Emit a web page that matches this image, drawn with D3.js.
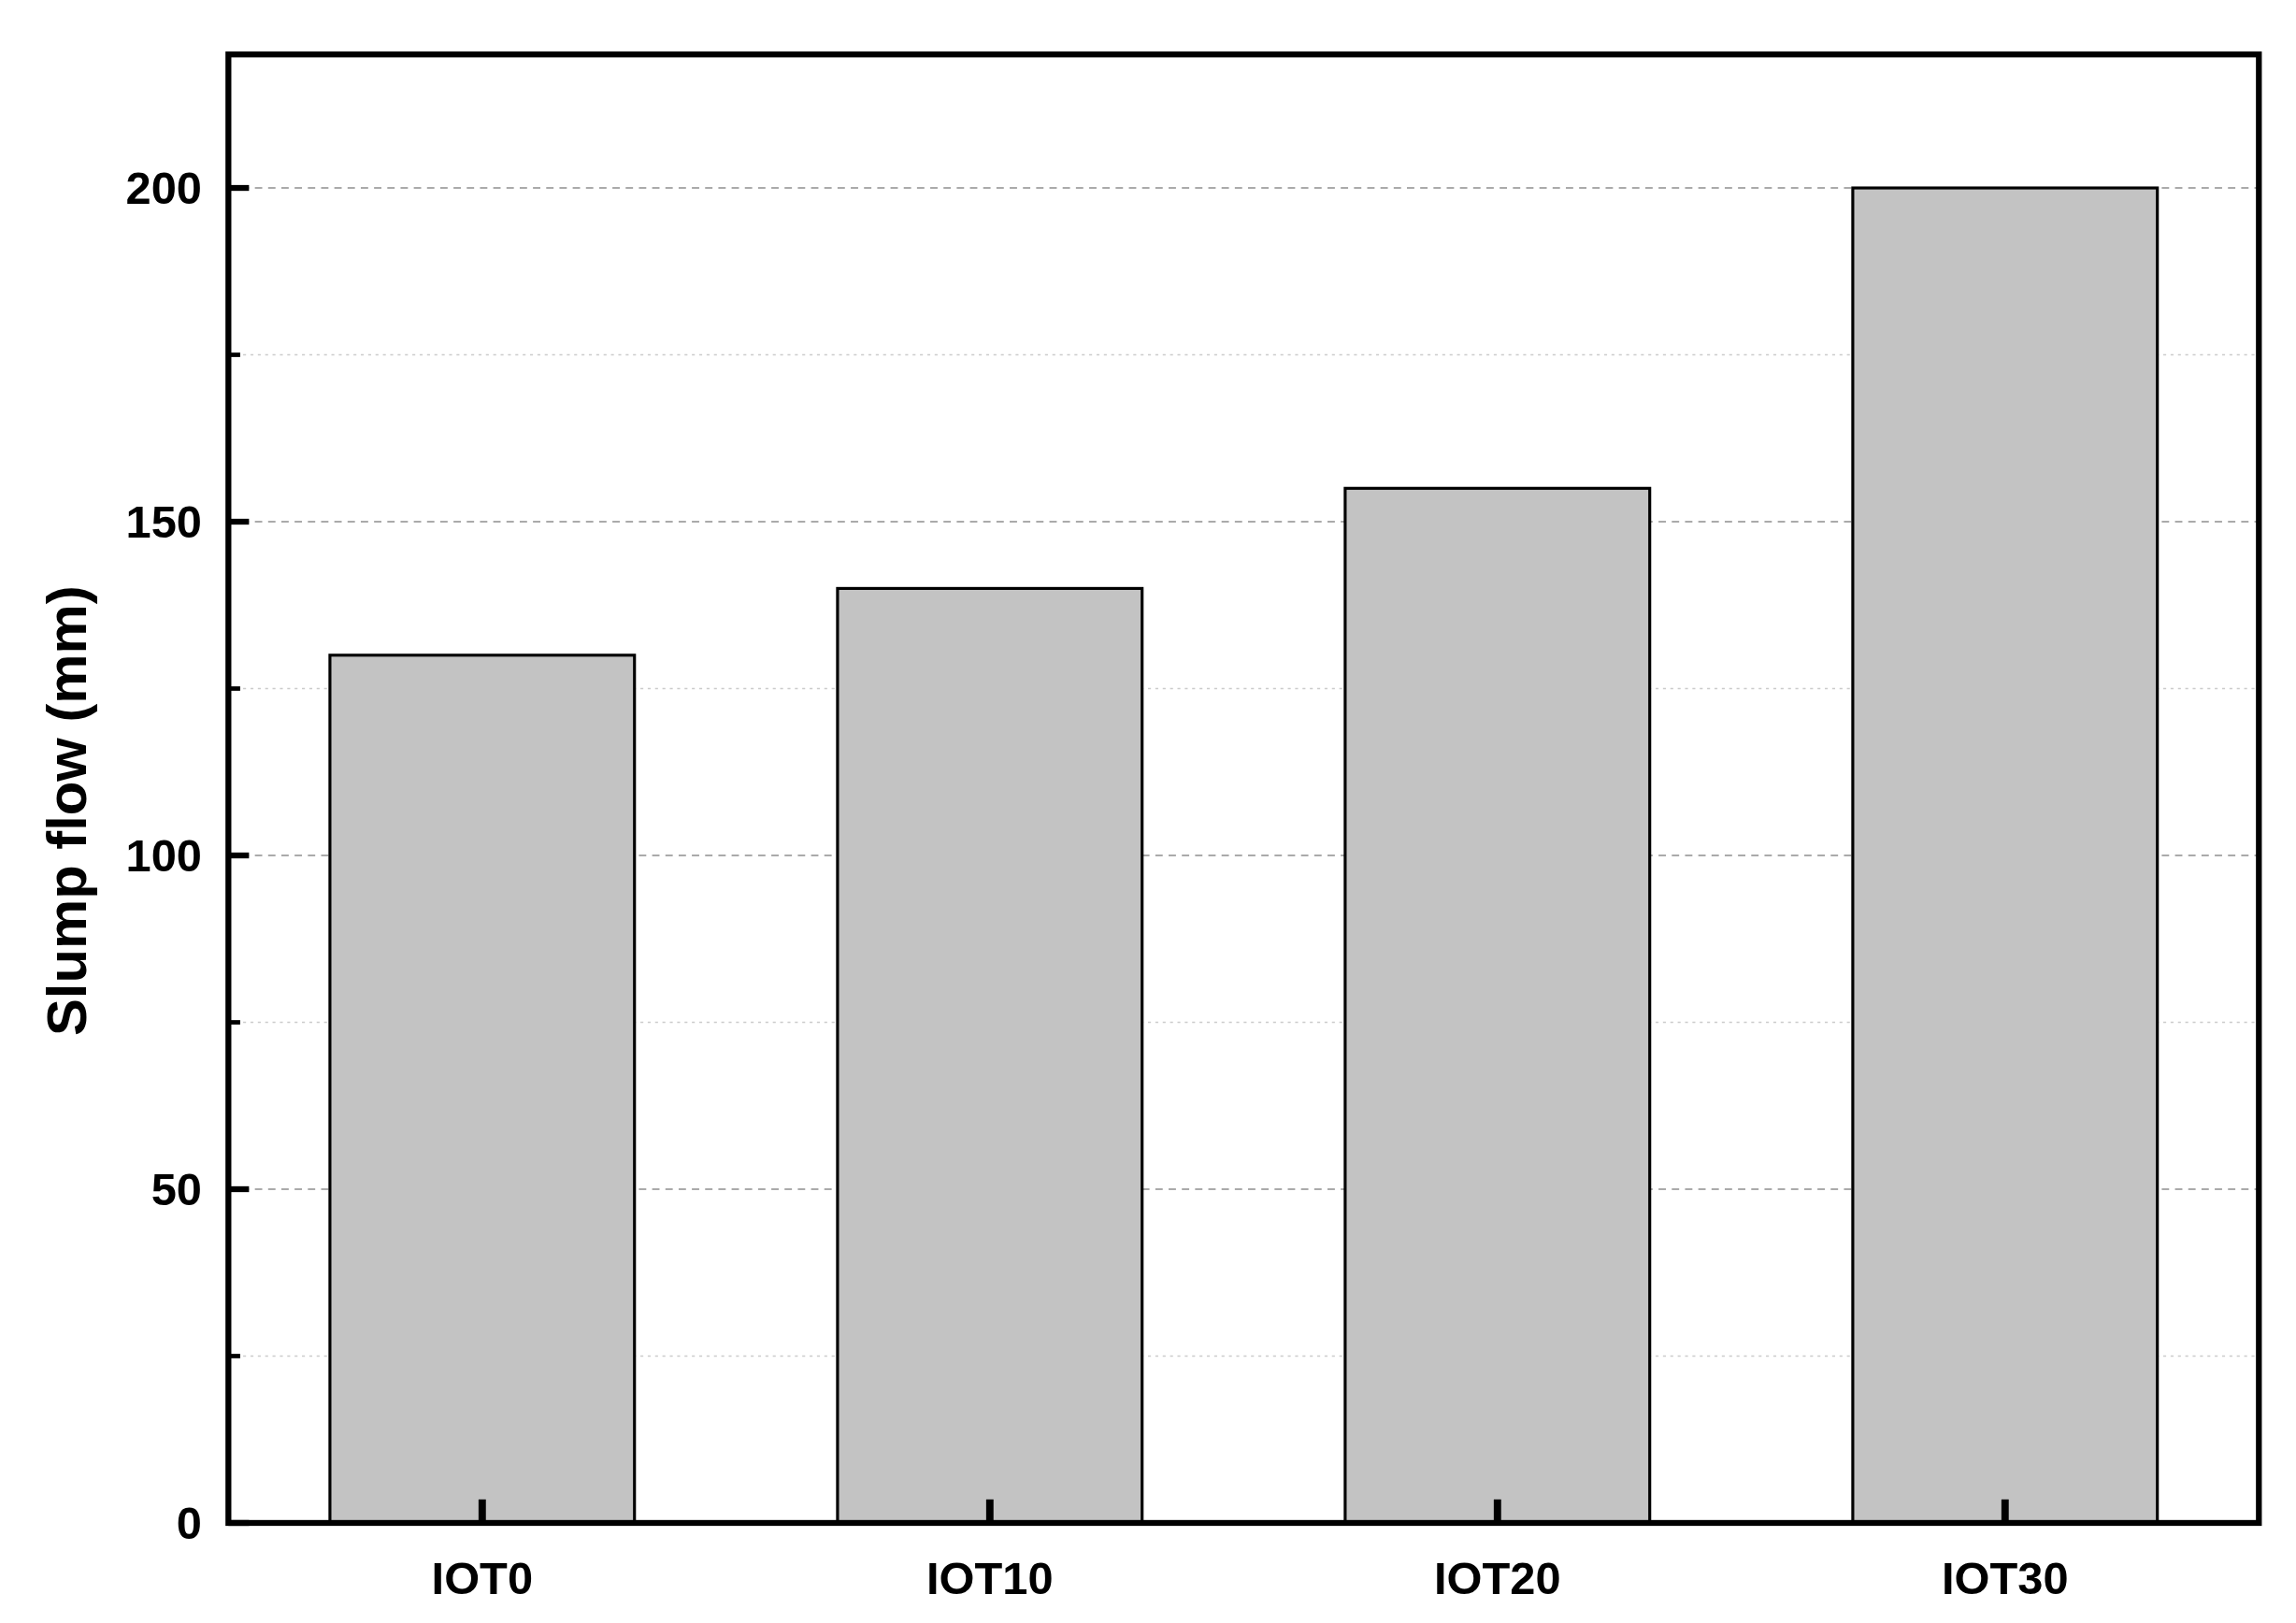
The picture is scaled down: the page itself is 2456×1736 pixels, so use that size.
<!DOCTYPE html>
<html><head><meta charset="utf-8">
<script src="https://cdn.jsdelivr.net/npm/d3@7"></script>
<style>body{margin:0;background:#fff}text{font-family:"Liberation Sans",Arial,sans-serif;font-weight:bold}</style>
</head><body><svg id="c"></svg>
<script>
const categories = ["IOT0", "IOT10", "IOT20", "IOT30"];
const slumpFlow = [130, 140, 155, 200];
const majorTicks = [0, 50, 100, 150, 200];
const minorTicks = [25, 75, 125, 175];

const svg = d3.select("#c").attr("width", 2456).attr("height", 1736)
    .attr("viewBox", "0 0 1560 1103");
const mLeft = 155, mRight = 1535, mTop = 37, mBottom = 1035;

const x = d3.scaleBand().domain(categories).range([mLeft, mRight]).paddingInner(0.4).paddingOuter(0.2);
const y = d3.scaleLinear().domain([0, 220]).range([mBottom, mTop]);

// grid
svg.selectAll(".gmaj").data(majorTicks.slice(1)).join("line")
    .attr("x1", mLeft).attr("x2", mRight).attr("y1", d => y(d)).attr("y2", d => y(d))
    .attr("stroke", "#aaa").attr("stroke-width", 1.2).attr("stroke-dasharray", "5,4");
svg.selectAll(".gmin").data(minorTicks).join("line")
    .attr("x1", mLeft).attr("x2", mRight).attr("y1", d => y(d)).attr("y2", d => y(d))
    .attr("stroke", "#ccc").attr("stroke-width", 1).attr("stroke-dasharray", "2,3");

// bars
svg.selectAll(".bar").data(slumpFlow).join("rect")
    .attr("x", (d, i) => x(categories[i])).attr("width", x.bandwidth())
    .attr("y", d => y(d)).attr("height", d => y(0) - y(d))
    .attr("fill", "#c3c3c3").attr("stroke", "#000").attr("stroke-width", 2);

// frame
svg.append("rect").attr("x", mLeft).attr("y", mTop).attr("width", mRight - mLeft).attr("height", mBottom - mTop)
    .attr("fill", "none").attr("stroke", "#000").attr("stroke-width", 4);

// y ticks
svg.selectAll(".yt").data(majorTicks).join("line")
    .attr("x1", mLeft).attr("x2", mLeft + 14).attr("y1", d => y(d)).attr("y2", d => y(d))
    .attr("stroke", "#000").attr("stroke-width", 4);
svg.selectAll(".ytm").data(minorTicks).join("line")
    .attr("x1", mLeft).attr("x2", mLeft + 8).attr("y1", d => y(d)).attr("y2", d => y(d))
    .attr("stroke", "#000").attr("stroke-width", 3);
svg.selectAll(".yl").data(majorTicks).join("text")
    .attr("x", mLeft - 18).attr("y", d => y(d)).attr("dy", "0.35em")
    .attr("text-anchor", "end").attr("font-size", 31).text(d => d);

// x ticks
svg.selectAll(".xt").data(categories).join("line")
    .attr("x1", d => x(d) + x.bandwidth() / 2).attr("x2", d => x(d) + x.bandwidth() / 2)
    .attr("y1", mBottom).attr("y2", mBottom - 16).attr("stroke", "#000").attr("stroke-width", 5);
svg.selectAll(".xl").data(categories).join("text")
    .attr("x", d => x(d) + x.bandwidth() / 2).attr("y", mBottom + 48)
    .attr("text-anchor", "middle").attr("font-size", 31).text(d => d);

svg.append("text").attr("transform", `translate(58,${(mTop + mBottom) / 2 + 15}) rotate(-90)`)
    .attr("text-anchor", "middle").attr("font-size", 38).text("Slump flow (mm)");
</script></body></html>
